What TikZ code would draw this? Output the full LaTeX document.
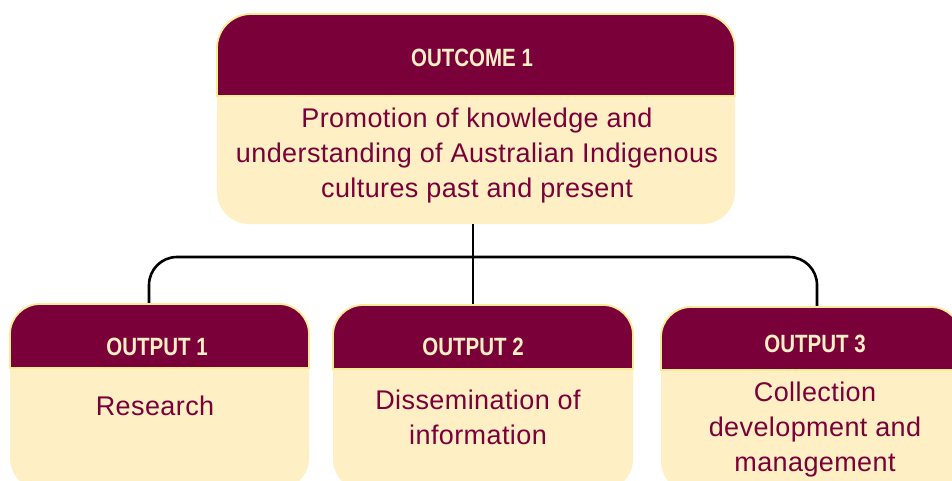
\documentclass[tikz,border=0pt]{standalone}
\usepackage{fontspec}
\setmainfont{Liberation Sans}
\newfontfamily\hdrfont{Liberation Sans}[FakeStretch=0.82]
\newfontfamily\bodyfont{Liberation Sans}[LetterSpace=1.5]
\definecolor{maroonc}{RGB}{122,0,58}
\definecolor{creamc}{RGB}{255,239,196}
\definecolor{edgec}{RGB}{250,236,150}
\tikzset{
  bodybox/.style={rectangle, rounded corners=32pt, fill=creamc, draw=none, inner sep=0pt},
  hdrbox/.style={fill=maroonc, draw=edgec, line width=1.8pt},
  hdrtext/.style={font=\hdrfont\bfseries\fontsize{25}{28}\selectfont, text=creamc, inner sep=0pt},
  bodytext/.style={font=\bodyfont\fontsize{27}{35}\selectfont, text=maroonc, align=center, inner sep=0pt},
  conn/.style={draw=black, line width=2.6pt}
}
\begin{document}
\begin{tikzpicture}[x=1pt,y=-1pt]
\useasboundingbox (0,0) rectangle (952,480);
\clip (0,0) rectangle (952,480);
\fill[white] (0,0) rectangle (952,480);

% boxes (body)
\node[bodybox, minimum width=518pt, minimum height=210pt] (oc) at (476,119) {};
\node[bodybox, minimum width=299pt, minimum height=186pt] (o1) at (159.5,397) {};
\node[bodybox, minimum width=300pt, minimum height=186pt] (o2) at (483,398) {};
\node[bodybox, minimum width=300pt, minimum height=186pt] (o3) at (811,400) {};

% connectors
\coordinate (bus) at (473,257);
\coordinate (bL) at (149,257);
\coordinate (bR) at (817,257);
\draw[conn] (bus |- oc.south) -- (bus |- o2.north);
\draw[conn, rounded corners=28pt] (bL |- o1.north) -- (bL) -- (bR) -- (bR |- o3.north);

% headers
\draw[hdrbox] (217,96) [rounded corners=34pt] -- (217,14) -- (735,14) [sharp corners] -- (735,96) -- cycle;
\draw[hdrbox] (10,368) [rounded corners=30pt] -- (10,304) -- (309,304) [sharp corners] -- (309,368) -- cycle;
\draw[hdrbox] (333,369) [rounded corners=30pt] -- (333,305) -- (633,305) [sharp corners] -- (633,369) -- cycle;
\draw[hdrbox] (661,370) [rounded corners=30pt] -- (661,307) -- (961,307) [sharp corners] -- (961,370) -- cycle;

% texts
\node[hdrtext] (och) at (472,58) {OUTCOME 1};
\node[hdrtext] (o1h) at (157,347) {OUTPUT 1};
\node[hdrtext] (o2h) at (473,347) {OUTPUT 2};
\node[hdrtext] (o3h) at (815,344) {OUTPUT 3};

\node[bodytext] (oct) at (477,156) {Promotion of knowledge and\\understanding of Australian Indigenous\\cultures past and present};
\node[bodytext] (o1t) at (155,406) {Research};
\node[bodytext] (o2t) at (478,417) {Dissemination of\\information};
\node[bodytext] (o3t) at (815,430) {Collection\\development and\\management};
\end{tikzpicture}
\end{document}
